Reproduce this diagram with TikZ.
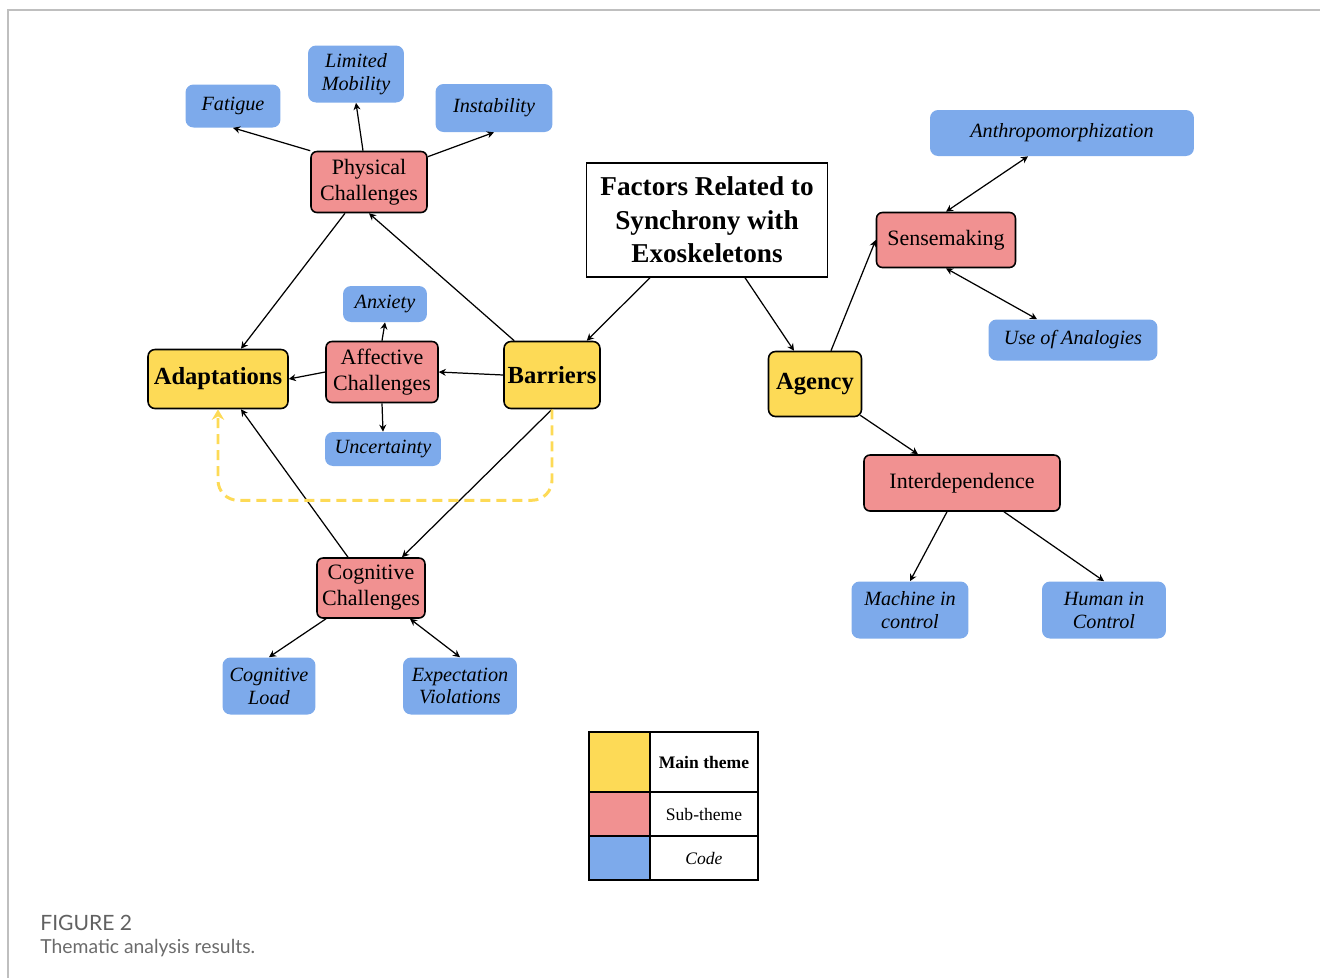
\documentclass[tikz,border=0pt]{standalone}
\usepackage{fontspec}
\setmainfont{LiberationSerif}[Extension=.ttf, UprightFont=*-Regular, ItalicFont=*-Italic,
    BoldFont=*-Bold, BoldItalicFont=*-BoldItalic]
\newfontfamily\capfont{Lato}
\usepackage{tikz}
\usetikzlibrary{arrows.meta}
\usetikzlibrary{positioning}

\definecolor{mainyellow}{HTML}{FDDA56}
\definecolor{subpink}{HTML}{F19191}
\definecolor{codeblue}{HTML}{7DAAEB}

\begin{document}
\begin{tikzpicture}[x=0.02cm, y=-0.02cm,
    mainbox/.style={draw, line width=0.9pt, fill=mainyellow, rounded corners=0.14cm, inner sep=0pt,
        font=\fontsize{14}{17}\selectfont\bfseries, align=center},
    subbox/.style={draw, line width=0.9pt, fill=subpink, rounded corners=0.12cm, inner sep=0pt,
        font=\fontsize{12.5}{14.8}\selectfont, align=center},
    codebox/.style={fill=codeblue, rounded corners=0.16cm, inner sep=0pt,
        font=\fontsize{11.5}{13}\selectfont\itshape, align=center},
    link/.style={line width=0.7pt, -{Stealth[length=4pt, width=4pt]}},
    twolink/.style={line width=0.7pt, {Stealth[length=4pt, width=4pt]}-{Stealth[length=4pt, width=4pt]}},
    legcell/.style={draw, line width=1pt, inner sep=0pt, minimum width=2.16cm, font=\fontsize{10}{12}\selectfont}]
        \useasboundingbox (0,0) rectangle (1320,978);
        \draw[black!25, line width=1pt] (8,978) -- (8,10) -- (1320,10);

        % main themes
        \node[draw, line width=0.8pt, inner sep=0pt, minimum width=4.82cm, minimum height=2.28cm,
            font=\fontsize{15.5}{19}\selectfont\bfseries, align=center] (factors) at (707,220)
            {Factors Related to\\Synchrony with\\Exoskeletons};
        \node[mainbox, minimum width=2.8cm, minimum height=1.18cm] (adapt) at (218,379) {Adaptations};
        \node[mainbox, minimum width=1.92cm, minimum height=1.34cm] (barr) at (552,375) {Barriers};
        \node[mainbox, minimum width=1.86cm, minimum height=1.3cm] (agency) at (815,384) {Agency};

        % sub-themes
        \node[subbox, minimum width=2.32cm, minimum height=1.22cm] (phys) at (369,182) {Physical\\Challenges};
        \node[subbox, minimum width=2.24cm, minimum height=1.22cm] (aff) at (382,372) {Affective\\Challenges};
        \node[subbox, minimum width=2.16cm, minimum height=1.2cm] (cog) at (371,588) {Cognitive\\Challenges};
        \node[subbox, minimum width=2.78cm, minimum height=1.1cm] (sense) at (946,240) {Sensemaking};
        \node[subbox, minimum width=3.92cm, minimum height=1.12cm] (interdep) at (962,483) {Interdependence};

        % codes
        \node[codebox, minimum width=1.9cm, minimum height=0.86cm] (fatigue) at (233,106) {Fatigue};
        \node[codebox, minimum width=1.92cm, minimum height=1.14cm] (limmob) at (356,74) {Limited\\Mobility};
        \node[codebox, minimum width=2.34cm, minimum height=0.96cm] (instab) at (494,108) {Instability};
        \node[codebox, minimum width=1.68cm, minimum height=0.72cm] (anxiety) at (385,304) {Anxiety};
        \node[codebox, minimum width=2.32cm, minimum height=0.68cm] (uncert) at (383,449) {Uncertainty};
        \node[codebox, minimum width=1.86cm, minimum height=1.14cm] (cogload) at (269,686) {Cognitive\\Load};
        \node[codebox, minimum width=2.28cm, minimum height=1.14cm] (expviol) at (460,686) {Expectation\\Violations};
        \node[codebox, minimum width=5.28cm, minimum height=0.92cm] (anthro) at (1062,133) {Anthropomorphization};
        \node[codebox, minimum width=3.38cm, minimum height=0.82cm] (analog) at (1073,340) {Use of Analogies};
        \node[codebox, minimum width=2.34cm, minimum height=1.14cm] (machine) at (910,610) {Machine in\\control};
        \node[codebox, minimum width=2.48cm, minimum height=1.14cm] (human) at (1104,610) {Human in\\Control};

        % connectors
        \draw[link] (phys.north west) -- (fatigue.south);
        \draw[link] ([xshift=-0.12cm]phys.north) -- (limmob.south);
        \draw[link] ([yshift=-0.12cm]phys.north east) -- (instab.south);
        \draw[link] ([xshift=-0.48cm]phys.south) -- ([xshift=0.46cm]adapt.north);
        \draw[link] ([xshift=0.22cm]barr.north west) -- (phys.south);
        \draw[link] (aff.north) -- (anxiety.south);
        \draw[link] (aff.south) -- (uncert.north);
        \draw[link] (aff.west) -- (adapt.east);
        \draw[link] (barr.west) -- (aff.east);
        \draw[link] ([xshift=-1.14cm]factors.south) -- ([xshift=-0.28cm]barr.north east);
        \draw[link] ([xshift=0.76cm]factors.south) -- ([xshift=-0.42cm]agency.north);
        \draw[link] ([xshift=0.32cm]agency.north) -- (sense.west);
        \draw[twolink] (sense.north) -- ([xshift=-0.68cm]anthro.south);
        \draw[twolink] (sense.south) -- ([xshift=-0.72cm]analog.north);
        \draw[link] ([xshift=-0.04cm, yshift=0.04cm]agency.south east) -- ([xshift=-0.88cm]interdep.north);
        \draw[link] ([xshift=-0.3cm]interdep.south) -- (machine.north);
        \draw[link] ([xshift=0.84cm]interdep.south) -- (human.north);
        \draw[link] ([xshift=-0.46cm]cog.north) -- ([xshift=0.46cm]adapt.south);
        \draw[link] (barr.south) -- ([xshift=0.62cm]cog.north);
        \draw[link] ([xshift=-0.9cm]cog.south) -- (cogload.north);
        \draw[twolink] ([xshift=0.78cm]cog.south) -- (expviol.north);
        \draw[mainyellow, line width=1.7pt, dash pattern=on 0.2cm off 0.12cm, rounded corners=0.4cm,
            -{Stealth[length=6pt, width=7pt]}] (barr.south) -- ++(0,91) -| (adapt.south);

        % legend
        \node[legcell, fill=mainyellow, minimum width=1.22cm, minimum height=1.2cm] (legmain) at (619.5,762) {};
        \node[legcell, fill=subpink, minimum width=1.22cm, minimum height=0.88cm] (legsub) at (619.5,814) {};
        \node[legcell, fill=codeblue, minimum width=1.22cm, minimum height=0.88cm] (legcode) at (619.5,858) {};
        \node[legcell, minimum height=1.2cm, font=\fontsize{10}{12}\selectfont\bfseries] (legmaintxt) at (704,762) {Main theme};
        \node[legcell, minimum height=0.88cm] (legsubtxt) at (704,814) {Sub-theme};
        \node[legcell, minimum height=0.88cm, font=\fontsize{10}{12}\selectfont\itshape] (legcodetxt) at (704,858) {Code};

        % caption
        \node[anchor=base west, inner sep=0pt, text=black!62, font=\capfont\fontsize{12}{14}\selectfont] (figlabel) at (40,930) {FIGURE 2};
        \node[anchor=base west, inner sep=0pt, text=black!58, font=\capfont\fontsize{11}{13}\selectfont] (figtext) at (40,953) {Thematic analysis results.};
\end{tikzpicture}
\end{document}
